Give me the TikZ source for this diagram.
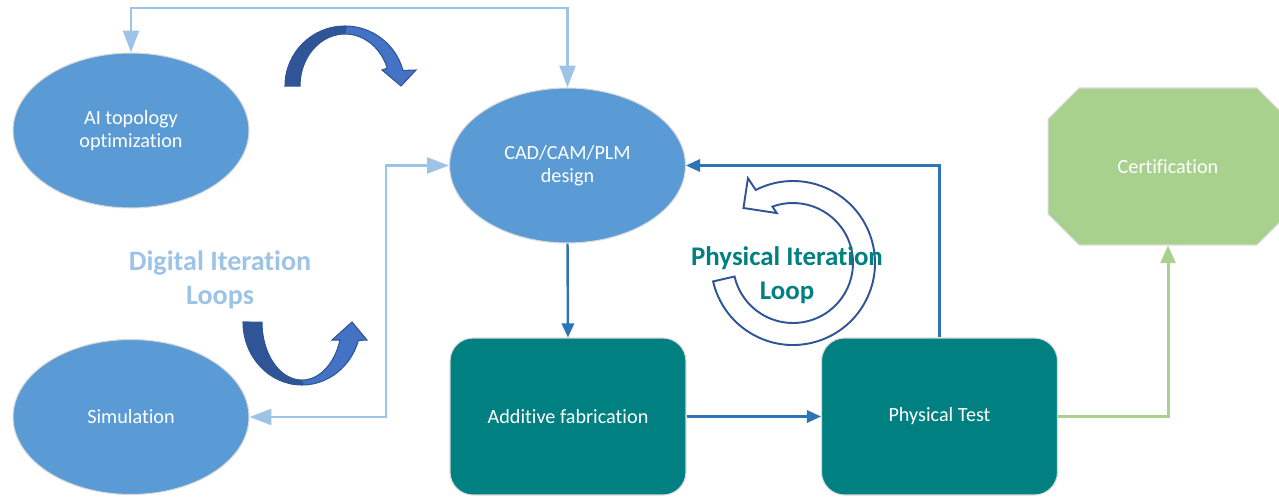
\documentclass[tikz,border=0pt]{standalone}
\usepackage{fontspec}
\setmainfont{Carlito}[Ligatures={NoCommon,NoRare,NoContextual}]
\usetikzlibrary{shapes.geometric,shapes.misc,arrows.meta}
\definecolor{NodeBlue}{RGB}{91,155,213}
\definecolor{BoxTeal}{RGB}{0,128,128}
\definecolor{LineLight}{RGB}{157,195,230}
\definecolor{LineDark}{RGB}{46,117,182}
\definecolor{CertGreen}{RGB}{169,209,142}
\definecolor{ArrowDark}{RGB}{47,85,151}
\definecolor{ArrowLight}{RGB}{68,114,196}

\begin{document}
\begin{tikzpicture}[
        x=0.02cm, y=-0.02cm,
        % --- STYLE CHUNG ---
        common/.style={
            draw=black!15,
            line width=0.6pt,
            text=white,
            align=center,
            inner sep=0pt,
            font=\fontsize{11.5}{13}\selectfont
        },
        % Ellipses (blue)
        ellipse_node/.style={
            common,
            ellipse,
            fill=NodeBlue,
            minimum width=4.72cm,
            minimum height=3.1cm
        },
        % Boxes (teal)
        box_node/.style={
            common,
            rectangle,
            rounded corners=0.46cm,
            fill=BoxTeal,
            minimum width=4.72cm,
            minimum height=3.14cm
        },
        % Certification (green octagon)
        cert_node/.style={
            common,
            chamfered rectangle,
            chamfered rectangle xsep=0.48cm,
            chamfered rectangle ysep=0.48cm,
            fill=CertGreen,
            minimum width=4.8cm,
            minimum height=3.14cm
        },
        % Connectors
        light_line/.style={
            draw=LineLight,
            line width=1.7pt,
            {Triangle[length=12.5pt,width=9pt]}-{Triangle[length=12.5pt,width=9pt]}
        },
        dark_line/.style={
            draw=LineDark,
            line width=1.4pt,
            -{Triangle[length=8pt,width=7pt]}
        },
        green_line/.style={
            draw=CertGreen,
            line width=1.7pt,
            -{Triangle[length=10pt,width=8.5pt]}
        },
        % Block arrows
        block_arrow/.style={
            fill=ArrowLight,
            draw=ArrowDark,
            line width=0.6pt
        },
        block_shade/.style={
            fill=ArrowDark
        },
        loop_text/.style={
            align=center,
            font=\bfseries\fontsize{16}{19.5}\selectfont
        }
    ]

        \useasboundingbox (0,0) rectangle (1279,497);

        % --- NODES ---
        \node[ellipse_node] (ai) at (131,130.5) {AI topology\\optimization};
        \node[ellipse_node] (sim) at (131,417) {Simulation};
        \node[ellipse_node] (cad) at (567.5,165.5) {CAD/CAM/PLM\\design};
        \node[box_node] (additive) at (568,416.5) {Additive fabrication};
        \node[box_node] (test) at (939.5,416.5) {Physical Test};
        \node[cert_node] (cert) at (1168,166.5) {Certification};

        % --- HELPER COORDINATES ---
        \coordinate (top_line) at (0,8);
        \coordinate (mid_bus) at (386,0);

        % --- DIGITAL LOOPS (light blue) ---
        \draw[light_line] (ai.north) -- (ai.north |- top_line) -| (cad.north);
        \draw[light_line] (sim.east) -- (sim.east -| mid_bus) |- (cad.west);

        % --- PHYSICAL FLOW (dark blue) ---
        \draw[dark_line] (cad.south) -- (additive.north);
        \draw[dark_line] (additive.east) -- (test.west);
        \draw[dark_line] (test.north) |- (cad.east);

        % --- TO CERTIFICATION (green) ---
        \draw[green_line] (test.east) -| (cert.south);

        % --- CURVED BLOCK ARROWS ---
        % Top arrow
        \draw[block_arrow] (285,86) arc[start angle=180, end angle=345, x radius=60, y radius=60]
            -- (416,70) -- (401,86) -- (382,70) -- (387.3,68.2)
            arc[start angle=340, end angle=180, x radius=45, y radius=52] -- cycle;
        \fill[block_shade] (285,86) arc[start angle=180, end angle=272, x radius=60, y radius=60]
            -- (345,34) arc[start angle=270, end angle=180, x radius=45, y radius=52] -- cycle;
        % Bottom arrow
        \draw[block_arrow] (243,322) arc[start angle=180, end angle=17, x radius=59, y radius=63]
            -- (367,340) -- (352,322) -- (332,340) -- (340,340)
            arc[start angle=18, end angle=180, x radius=40, y radius=58] -- cycle;
        \fill[block_shade] (243,322) arc[start angle=180, end angle=88, x radius=59, y radius=63]
            -- (302,380) arc[start angle=90, end angle=180, x radius=40, y radius=58] -- cycle;

        % --- CIRCULAR ARROW ---
        \begin{scope}[shift={(793,263)}]
            \draw[ArrowDark, line width=1.1pt, line join=miter]
                (167:82) arc[start angle=167, end angle=-117, radius=82]
                -- (-118:96) -- (-132:74) -- (-108:52.5) -- (-110:60)
                arc[start angle=-110, end angle=167, radius=60] -- cycle;
        \end{scope}

        % --- LOOP LABELS ---
        \node[loop_text, text=LineLight] (digital) at (220,280) {Digital Iteration\\Loops};
        \node[loop_text, text=BoxTeal, font=\bfseries\fontsize{15.3}{19.5}\selectfont] (physical) at (787,275) {Physical Iteration\\Loop};

    \end{tikzpicture}
\end{document}
